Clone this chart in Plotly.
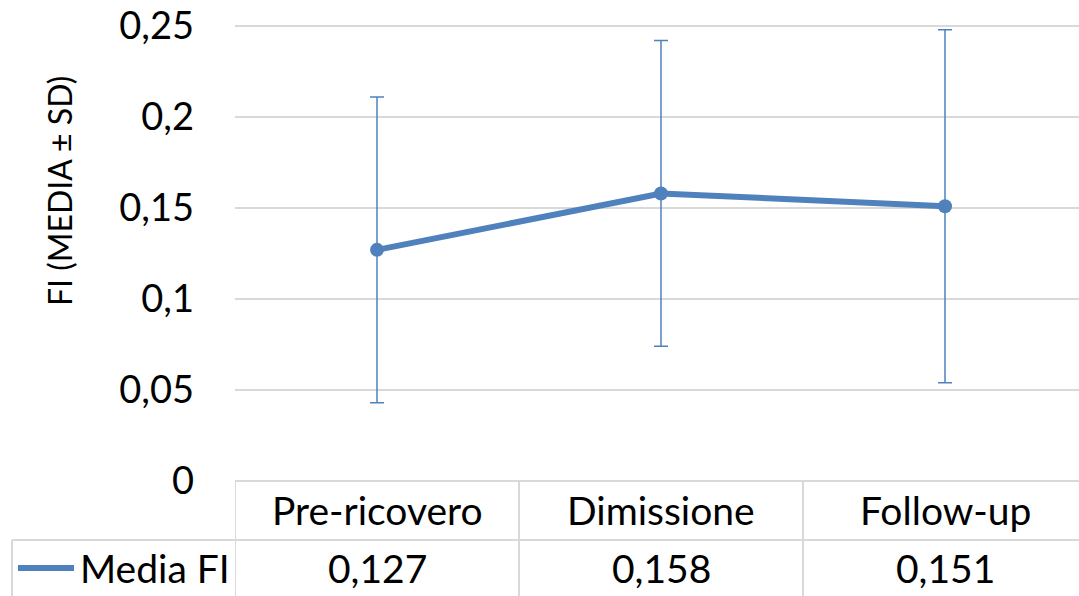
import plotly.graph_objects as go

categories = ["Pre-ricovero", "Dimissione", "Follow-up"]
media_fi = [0.127, 0.158, 0.151]
sd_fi = [0.084, 0.084, 0.097]
series_name = "Media FI"
y_ticks = [0, 0.05, 0.1, 0.15, 0.2, 0.25]
y_title = "FI (MEDIA ± SD)"

BLUE = "#4F81BD"
GRID = "#D9D9D9"
FONT = "Lato, Calibri, Carlito, sans-serif"

W, H = 1079, 596
ML, MR, MT, MB = 235, 0, 0, 115
PW, PH = W - ML - MR, H - MT - MB

def px(xp):
    return (xp - ML) / PW

def py(yp):
    return (H - MB - yp) / PH

xs = list(range(len(categories)))

fig = go.Figure()
fig.add_trace(go.Scatter(
    x=xs, y=media_fi, mode="lines+markers", name=series_name,
    line=dict(color=BLUE, width=6),
    marker=dict(color=BLUE, size=14),
    error_y=dict(type="data", array=sd_fi, visible=True, color=BLUE, thickness=1.5, width=7),
    showlegend=False, hoverinfo="skip",
))

shapes = []
ln = dict(color=GRID, width=2)
shapes.append(dict(type="line", xref="paper", yref="paper", x0=0, x1=1, y0=py(481), y1=py(481), line=ln))
shapes.append(dict(type="line", xref="paper", yref="paper", x0=px(12), x1=1, y0=py(540), y1=py(540), line=ln))
for b in [i - 0.5 for i in xs]:
    shapes.append(dict(type="line", xref="x", yref="paper", x0=b, x1=b, y0=py(481), y1=py(597), line=ln))
shapes.append(dict(type="line", xref="paper", yref="paper", x0=px(12), x1=px(12), y0=py(540), y1=py(597), line=ln))
shapes.append(dict(type="line", xref="paper", yref="paper", x0=px(18), x1=px(74), y0=py(568), y1=py(568),
                   line=dict(color=BLUE, width=6)))

TF = 39
annotations = []
for i, c in enumerate(categories):
    annotations.append(dict(x=i, xref="x", y=py(510), yref="paper", text=c, showarrow=False,
                            font=dict(size=TF, color="black", family=FONT), xanchor="center", yanchor="middle"))
for i, v in enumerate(media_fi):
    annotations.append(dict(x=i, xref="x", y=py(568), yref="paper", text=f"{v:.3f}".replace(".", ","),
                            showarrow=False, font=dict(size=TF, color="black", family=FONT),
                            xanchor="center", yanchor="middle"))
annotations.append(dict(x=px(78), xref="paper", y=py(568), yref="paper", text=series_name, showarrow=False,
                        font=dict(size=TF, color="black", family=FONT), xanchor="left", yanchor="middle"))
annotations.append(dict(x=px(60), xref="paper", y=py(191), yref="paper", text=y_title, showarrow=False,
                        textangle=-90, font=dict(size=32, color="black", family=FONT),
                        xanchor="center", yanchor="middle"))

fig.update_layout(
    width=W, height=H,
    margin=dict(l=ML, r=MR, t=MT, b=MB, pad=0),
    paper_bgcolor="white", plot_bgcolor="white",
    separators=", ",
    font=dict(family=FONT, color="black"),
    shapes=shapes, annotations=annotations,
    hovermode=False,
    xaxis=dict(range=[-0.5, -0.5 + PW / 284], showgrid=False, zeroline=False, showticklabels=False,
               showline=False, fixedrange=True),
    yaxis=dict(range=[0, PH / 1820], tickvals=y_ticks, showgrid=True, gridcolor=GRID, gridwidth=2,
               zeroline=False, showline=False, tickfont=dict(size=38, family=FONT, color="black"),
               ticklabelstandoff=40, ticks="", fixedrange=True),
)

fig.write_html("out.html", config={"displayModeBar": False, "staticPlot": True},
               post_script="document.body.style.margin='0px';document.body.style.overflow='hidden';")
